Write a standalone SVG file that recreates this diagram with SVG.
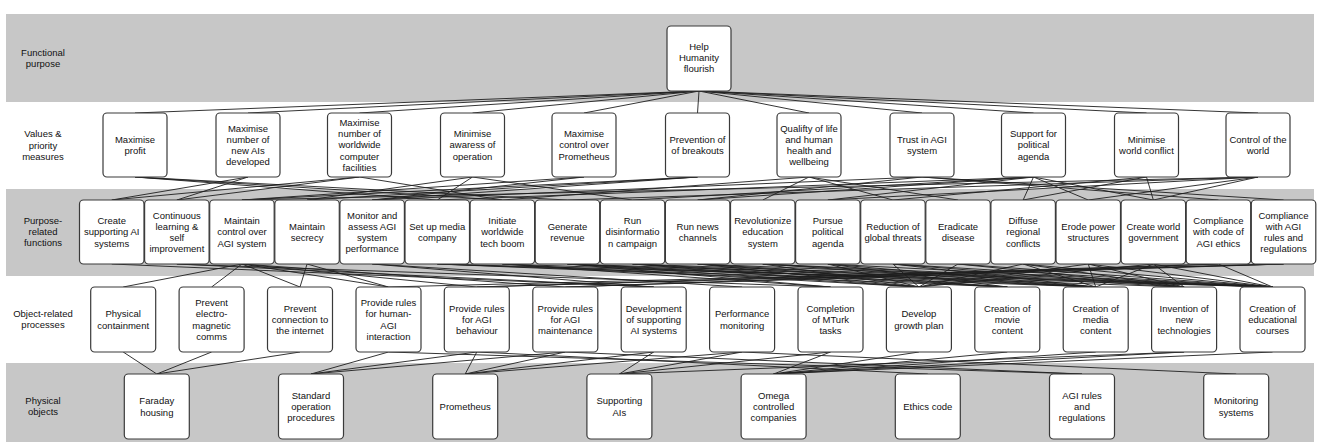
<svg xmlns="http://www.w3.org/2000/svg" width="1317" height="442" viewBox="0 0 1317 442">
<style>
.band{fill:#c7c7c7}
.node rect{fill:#fff;stroke:#3a3a3a;stroke-width:1.2}
text{font-family:"Liberation Sans",Arial,sans-serif;font-size:9.5px;fill:#111;text-anchor:middle}
#connectors line{stroke:#1e1e1e;stroke-width:0.9}
</style>
<rect width="1317" height="442" fill="#fff"/>
<g id="bands">
<rect class="band" x="6" y="14" width="1308" height="88"/>
<rect class="band" x="6" y="189" width="1308" height="87"/>
<rect class="band" x="6" y="363" width="1308" height="79"/>
</g>
<g id="row-labels">
<text x="43" y="55.7">Functional<tspan x="43" dy="11">purpose</tspan></text>
<text x="43" y="137.4">Values &amp;<tspan x="43" dy="11.3">priority</tspan><tspan x="43" dy="11.3">measures</tspan></text>
<text x="43" y="224.4">Purpose-<tspan x="43" dy="11">related</tspan><tspan x="43" dy="11">functions</tspan></text>
<text x="43" y="317.4">Object-related<tspan x="43" dy="11">processes</tspan></text>
<text x="43" y="404.1">Physical<tspan x="43" dy="11">objects</tspan></text>
</g>
<g id="connectors">
<line x1="699" y1="91" x2="135" y2="113"/>
<line x1="699" y1="91" x2="248" y2="113"/>
<line x1="699" y1="91" x2="359.5" y2="113"/>
<line x1="699" y1="91" x2="472.5" y2="113"/>
<line x1="699" y1="91" x2="584" y2="113"/>
<line x1="699" y1="91" x2="697.5" y2="113"/>
<line x1="699" y1="91" x2="809" y2="113"/>
<line x1="699" y1="91" x2="922" y2="113"/>
<line x1="699" y1="91" x2="1033.5" y2="113"/>
<line x1="699" y1="91" x2="1146.5" y2="113"/>
<line x1="699" y1="91" x2="1258" y2="113"/>
<line x1="135" y1="177" x2="437.25" y2="200"/>
<line x1="135" y1="177" x2="502.35" y2="200"/>
<line x1="135" y1="177" x2="567.45" y2="200"/>
<line x1="248" y1="177" x2="111.75" y2="200"/>
<line x1="248" y1="177" x2="176.85" y2="200"/>
<line x1="359.5" y1="177" x2="111.75" y2="200"/>
<line x1="359.5" y1="177" x2="176.85" y2="200"/>
<line x1="359.5" y1="177" x2="502.35" y2="200"/>
<line x1="472.5" y1="177" x2="307.05" y2="200"/>
<line x1="472.5" y1="177" x2="632.55" y2="200"/>
<line x1="472.5" y1="177" x2="437.25" y2="200"/>
<line x1="584" y1="177" x2="241.95" y2="200"/>
<line x1="584" y1="177" x2="372.15" y2="200"/>
<line x1="697.5" y1="177" x2="241.95" y2="200"/>
<line x1="697.5" y1="177" x2="307.05" y2="200"/>
<line x1="697.5" y1="177" x2="372.15" y2="200"/>
<line x1="809" y1="177" x2="502.35" y2="200"/>
<line x1="809" y1="177" x2="762.75" y2="200"/>
<line x1="809" y1="177" x2="892.95" y2="200"/>
<line x1="809" y1="177" x2="958.05" y2="200"/>
<line x1="922" y1="177" x2="697.65" y2="200"/>
<line x1="922" y1="177" x2="1218.45" y2="200"/>
<line x1="922" y1="177" x2="1283.55" y2="200"/>
<line x1="922" y1="177" x2="372.15" y2="200"/>
<line x1="1033.5" y1="177" x2="437.25" y2="200"/>
<line x1="1033.5" y1="177" x2="632.55" y2="200"/>
<line x1="1033.5" y1="177" x2="697.65" y2="200"/>
<line x1="1033.5" y1="177" x2="827.85" y2="200"/>
<line x1="1033.5" y1="177" x2="1023.15" y2="200"/>
<line x1="1033.5" y1="177" x2="1088.25" y2="200"/>
<line x1="1033.5" y1="177" x2="1153.35" y2="200"/>
<line x1="1146.5" y1="177" x2="892.95" y2="200"/>
<line x1="1146.5" y1="177" x2="1023.15" y2="200"/>
<line x1="1146.5" y1="177" x2="1153.35" y2="200"/>
<line x1="1258" y1="177" x2="827.85" y2="200"/>
<line x1="1258" y1="177" x2="1088.25" y2="200"/>
<line x1="1258" y1="177" x2="1153.35" y2="200"/>
<line x1="1258" y1="177" x2="567.45" y2="200"/>
<line x1="1258" y1="177" x2="241.95" y2="200"/>
<line x1="111.75" y1="264" x2="653.7" y2="287"/>
<line x1="176.85" y1="264" x2="653.7" y2="287"/>
<line x1="176.85" y1="264" x2="830.5" y2="287"/>
<line x1="241.95" y1="264" x2="123.2" y2="287"/>
<line x1="241.95" y1="264" x2="211.6" y2="287"/>
<line x1="241.95" y1="264" x2="300" y2="287"/>
<line x1="241.95" y1="264" x2="388.5" y2="287"/>
<line x1="241.95" y1="264" x2="476.8" y2="287"/>
<line x1="241.95" y1="264" x2="565.3" y2="287"/>
<line x1="307.05" y1="264" x2="300" y2="287"/>
<line x1="307.05" y1="264" x2="388.5" y2="287"/>
<line x1="372.15" y1="264" x2="742.1" y2="287"/>
<line x1="372.15" y1="264" x2="653.7" y2="287"/>
<line x1="437.25" y1="264" x2="1007.3" y2="287"/>
<line x1="437.25" y1="264" x2="1095.7" y2="287"/>
<line x1="437.25" y1="264" x2="1272.5" y2="287"/>
<line x1="502.35" y1="264" x2="1184.1" y2="287"/>
<line x1="502.35" y1="264" x2="918.9" y2="287"/>
<line x1="502.35" y1="264" x2="830.5" y2="287"/>
<line x1="567.45" y1="264" x2="830.5" y2="287"/>
<line x1="567.45" y1="264" x2="918.9" y2="287"/>
<line x1="567.45" y1="264" x2="1007.3" y2="287"/>
<line x1="567.45" y1="264" x2="1095.7" y2="287"/>
<line x1="567.45" y1="264" x2="1272.5" y2="287"/>
<line x1="632.55" y1="264" x2="1095.7" y2="287"/>
<line x1="632.55" y1="264" x2="1007.3" y2="287"/>
<line x1="632.55" y1="264" x2="918.9" y2="287"/>
<line x1="632.55" y1="264" x2="1272.5" y2="287"/>
<line x1="697.65" y1="264" x2="1095.7" y2="287"/>
<line x1="697.65" y1="264" x2="1007.3" y2="287"/>
<line x1="697.65" y1="264" x2="1272.5" y2="287"/>
<line x1="697.65" y1="264" x2="918.9" y2="287"/>
<line x1="762.75" y1="264" x2="1272.5" y2="287"/>
<line x1="762.75" y1="264" x2="1095.7" y2="287"/>
<line x1="762.75" y1="264" x2="1184.1" y2="287"/>
<line x1="762.75" y1="264" x2="918.9" y2="287"/>
<line x1="827.85" y1="264" x2="1095.7" y2="287"/>
<line x1="827.85" y1="264" x2="1007.3" y2="287"/>
<line x1="827.85" y1="264" x2="918.9" y2="287"/>
<line x1="827.85" y1="264" x2="1272.5" y2="287"/>
<line x1="892.95" y1="264" x2="1184.1" y2="287"/>
<line x1="892.95" y1="264" x2="918.9" y2="287"/>
<line x1="892.95" y1="264" x2="1272.5" y2="287"/>
<line x1="892.95" y1="264" x2="1095.7" y2="287"/>
<line x1="958.05" y1="264" x2="1184.1" y2="287"/>
<line x1="958.05" y1="264" x2="1272.5" y2="287"/>
<line x1="958.05" y1="264" x2="918.9" y2="287"/>
<line x1="1023.15" y1="264" x2="1095.7" y2="287"/>
<line x1="1023.15" y1="264" x2="918.9" y2="287"/>
<line x1="1023.15" y1="264" x2="1272.5" y2="287"/>
<line x1="1023.15" y1="264" x2="1184.1" y2="287"/>
<line x1="1088.25" y1="264" x2="1095.7" y2="287"/>
<line x1="1088.25" y1="264" x2="918.9" y2="287"/>
<line x1="1088.25" y1="264" x2="1184.1" y2="287"/>
<line x1="1088.25" y1="264" x2="1272.5" y2="287"/>
<line x1="1153.35" y1="264" x2="918.9" y2="287"/>
<line x1="1153.35" y1="264" x2="1095.7" y2="287"/>
<line x1="1153.35" y1="264" x2="1272.5" y2="287"/>
<line x1="1153.35" y1="264" x2="1184.1" y2="287"/>
<line x1="1218.45" y1="264" x2="476.8" y2="287"/>
<line x1="1218.45" y1="264" x2="1272.5" y2="287"/>
<line x1="1218.45" y1="264" x2="565.3" y2="287"/>
<line x1="1283.55" y1="264" x2="476.8" y2="287"/>
<line x1="1283.55" y1="264" x2="565.3" y2="287"/>
<line x1="1283.55" y1="264" x2="388.5" y2="287"/>
<line x1="123.2" y1="352" x2="156.8" y2="374"/>
<line x1="211.6" y1="352" x2="156.8" y2="374"/>
<line x1="300" y1="352" x2="156.8" y2="374"/>
<line x1="388.5" y1="352" x2="311" y2="374"/>
<line x1="388.5" y1="352" x2="1082" y2="374"/>
<line x1="476.8" y1="352" x2="311" y2="374"/>
<line x1="476.8" y1="352" x2="465.2" y2="374"/>
<line x1="476.8" y1="352" x2="927.8" y2="374"/>
<line x1="565.3" y1="352" x2="311" y2="374"/>
<line x1="565.3" y1="352" x2="465.2" y2="374"/>
<line x1="565.3" y1="352" x2="1082" y2="374"/>
<line x1="653.7" y1="352" x2="619.4" y2="374"/>
<line x1="653.7" y1="352" x2="465.2" y2="374"/>
<line x1="742.1" y1="352" x2="465.2" y2="374"/>
<line x1="742.1" y1="352" x2="1236.2" y2="374"/>
<line x1="742.1" y1="352" x2="619.4" y2="374"/>
<line x1="830.5" y1="352" x2="773.6" y2="374"/>
<line x1="830.5" y1="352" x2="619.4" y2="374"/>
<line x1="918.9" y1="352" x2="773.6" y2="374"/>
<line x1="1007.3" y1="352" x2="773.6" y2="374"/>
<line x1="1095.7" y1="352" x2="773.6" y2="374"/>
<line x1="1184.1" y1="352" x2="773.6" y2="374"/>
<line x1="1184.1" y1="352" x2="619.4" y2="374"/>
<line x1="1272.5" y1="352" x2="773.6" y2="374"/>
</g>
<g id="n-top" class="node"><rect x="667" y="26" width="64" height="65" rx="4"/><text x="699" y="50">Help<tspan x="699" dy="11.2">Humanity</tspan><tspan x="699" dy="11.2">flourish</tspan></text></g>
<g id="v1" class="node"><rect x="103" y="113" width="64" height="64" rx="4"/><text x="135" y="142.8">Maximise<tspan x="135" dy="11.2">profit</tspan></text></g>
<g id="v2" class="node"><rect x="216" y="113" width="64" height="64" rx="4"/><text x="248" y="131.6">Maximise<tspan x="248" dy="11.2">number of</tspan><tspan x="248" dy="11.2">new AIs</tspan><tspan x="248" dy="11.2">developed</tspan></text></g>
<g id="v3" class="node"><rect x="327.5" y="113" width="64" height="64" rx="4"/><text x="359.5" y="126">Maximise<tspan x="359.5" dy="11.2">number of</tspan><tspan x="359.5" dy="11.2">worldwide</tspan><tspan x="359.5" dy="11.2">computer</tspan><tspan x="359.5" dy="11.2">facilities</tspan></text></g>
<g id="v4" class="node"><rect x="440.5" y="113" width="64" height="64" rx="4"/><text x="472.5" y="137.2">Minimise<tspan x="472.5" dy="11.2">awaress of</tspan><tspan x="472.5" dy="11.2">operation</tspan></text></g>
<g id="v5" class="node"><rect x="552" y="113" width="64" height="64" rx="4"/><text x="584" y="137.2">Maximise<tspan x="584" dy="11.2">control over</tspan><tspan x="584" dy="11.2">Prometheus</tspan></text></g>
<g id="v6" class="node"><rect x="665.5" y="113" width="64" height="64" rx="4"/><text x="697.5" y="142.8">Prevention of<tspan x="697.5" dy="11.2">of breakouts</tspan></text></g>
<g id="v7" class="node"><rect x="777" y="113" width="64" height="64" rx="4"/><text x="809" y="131.6">Qualifty of life<tspan x="809" dy="11.2">and human</tspan><tspan x="809" dy="11.2">health and</tspan><tspan x="809" dy="11.2">wellbeing</tspan></text></g>
<g id="v8" class="node"><rect x="890" y="113" width="64" height="64" rx="4"/><text x="922" y="142.8">Trust in AGI<tspan x="922" dy="11.2">system</tspan></text></g>
<g id="v9" class="node"><rect x="1001.5" y="113" width="64" height="64" rx="4"/><text x="1033.5" y="137.2">Support for<tspan x="1033.5" dy="11.2">political</tspan><tspan x="1033.5" dy="11.2">agenda</tspan></text></g>
<g id="v10" class="node"><rect x="1114.5" y="113" width="64" height="64" rx="4"/><text x="1146.5" y="142.8">Minimise<tspan x="1146.5" dy="11.2">world conflict</tspan></text></g>
<g id="v11" class="node"><rect x="1226" y="113" width="64" height="64" rx="4"/><text x="1258" y="142.8">Control of the<tspan x="1258" dy="11.2">world</tspan></text></g>
<g id="f1" class="node"><rect x="79.5" y="200" width="64.5" height="64" rx="4"/><text x="111.75" y="224.2">Create<tspan x="111.75" dy="11.2">supporting AI</tspan><tspan x="111.75" dy="11.2">systems</tspan></text></g>
<g id="f2" class="node"><rect x="144.6" y="200" width="64.5" height="64" rx="4"/><text x="176.85" y="218.6">Continuous<tspan x="176.85" dy="11.2">learning &amp;</tspan><tspan x="176.85" dy="11.2">self</tspan><tspan x="176.85" dy="11.2">improvement</tspan></text></g>
<g id="f3" class="node"><rect x="209.7" y="200" width="64.5" height="64" rx="4"/><text x="241.95" y="224.2">Maintain<tspan x="241.95" dy="11.2">control over</tspan><tspan x="241.95" dy="11.2">AGI system</tspan></text></g>
<g id="f4" class="node"><rect x="274.8" y="200" width="64.5" height="64" rx="4"/><text x="307.05" y="229.8">Maintain<tspan x="307.05" dy="11.2">secrecy</tspan></text></g>
<g id="f5" class="node"><rect x="339.9" y="200" width="64.5" height="64" rx="4"/><text x="372.15" y="218.6">Monitor and<tspan x="372.15" dy="11.2">assess AGI</tspan><tspan x="372.15" dy="11.2">system</tspan><tspan x="372.15" dy="11.2">performance</tspan></text></g>
<g id="f6" class="node"><rect x="405" y="200" width="64.5" height="64" rx="4"/><text x="437.25" y="229.8">Set up media<tspan x="437.25" dy="11.2">company</tspan></text></g>
<g id="f7" class="node"><rect x="470.1" y="200" width="64.5" height="64" rx="4"/><text x="502.35" y="224.2">Initiate<tspan x="502.35" dy="11.2">worldwide</tspan><tspan x="502.35" dy="11.2">tech boom</tspan></text></g>
<g id="f8" class="node"><rect x="535.2" y="200" width="64.5" height="64" rx="4"/><text x="567.45" y="229.8">Generate<tspan x="567.45" dy="11.2">revenue</tspan></text></g>
<g id="f9" class="node"><rect x="600.3" y="200" width="64.5" height="64" rx="4"/><text x="632.55" y="224.2">Run<tspan x="632.55" dy="11.2">disinformatio</tspan><tspan x="632.55" dy="11.2">n campaign</tspan></text></g>
<g id="f10" class="node"><rect x="665.4" y="200" width="64.5" height="64" rx="4"/><text x="697.65" y="229.8">Run news<tspan x="697.65" dy="11.2">channels</tspan></text></g>
<g id="f11" class="node"><rect x="730.5" y="200" width="64.5" height="64" rx="4"/><text x="762.75" y="224.2">Revolutionize<tspan x="762.75" dy="11.2">education</tspan><tspan x="762.75" dy="11.2">system</tspan></text></g>
<g id="f12" class="node"><rect x="795.6" y="200" width="64.5" height="64" rx="4"/><text x="827.85" y="224.2">Pursue<tspan x="827.85" dy="11.2">political</tspan><tspan x="827.85" dy="11.2">agenda</tspan></text></g>
<g id="f13" class="node"><rect x="860.7" y="200" width="64.5" height="64" rx="4"/><text x="892.95" y="229.8">Reduction of<tspan x="892.95" dy="11.2">global threats</tspan></text></g>
<g id="f14" class="node"><rect x="925.8" y="200" width="64.5" height="64" rx="4"/><text x="958.05" y="229.8">Eradicate<tspan x="958.05" dy="11.2">disease</tspan></text></g>
<g id="f15" class="node"><rect x="990.9" y="200" width="64.5" height="64" rx="4"/><text x="1023.15" y="224.2">Diffuse<tspan x="1023.15" dy="11.2">regional</tspan><tspan x="1023.15" dy="11.2">conflicts</tspan></text></g>
<g id="f16" class="node"><rect x="1056" y="200" width="64.5" height="64" rx="4"/><text x="1088.25" y="229.8">Erode power<tspan x="1088.25" dy="11.2">structures</tspan></text></g>
<g id="f17" class="node"><rect x="1121.1" y="200" width="64.5" height="64" rx="4"/><text x="1153.35" y="229.8">Create world<tspan x="1153.35" dy="11.2">government</tspan></text></g>
<g id="f18" class="node"><rect x="1186.2" y="200" width="64.5" height="64" rx="4"/><text x="1218.45" y="224.2">Compliance<tspan x="1218.45" dy="11.2">with code of</tspan><tspan x="1218.45" dy="11.2">AGI ethics</tspan></text></g>
<g id="f19" class="node"><rect x="1251.3" y="200" width="64.5" height="64" rx="4"/><text x="1283.55" y="218.6">Compliance<tspan x="1283.55" dy="11.2">with AGI</tspan><tspan x="1283.55" dy="11.2">rules and</tspan><tspan x="1283.55" dy="11.2">regulations</tspan></text></g>
<g id="p1" class="node"><rect x="90.7" y="287" width="65" height="65" rx="4"/><text x="123.2" y="317.3">Physical<tspan x="123.2" dy="11.2">containment</tspan></text></g>
<g id="p2" class="node"><rect x="179.1" y="287" width="65" height="65" rx="4"/><text x="211.6" y="306.1">Prevent<tspan x="211.6" dy="11.2">electro-</tspan><tspan x="211.6" dy="11.2">magnetic</tspan><tspan x="211.6" dy="11.2">comms</tspan></text></g>
<g id="p3" class="node"><rect x="267.5" y="287" width="65" height="65" rx="4"/><text x="300" y="311.7">Prevent<tspan x="300" dy="11.2">connection to</tspan><tspan x="300" dy="11.2">the internet</tspan></text></g>
<g id="p4" class="node"><rect x="356" y="287" width="65" height="65" rx="4"/><text x="388.5" y="306.1">Provide rules<tspan x="388.5" dy="11.2">for human-</tspan><tspan x="388.5" dy="11.2">AGI</tspan><tspan x="388.5" dy="11.2">interaction</tspan></text></g>
<g id="p5" class="node"><rect x="444.3" y="287" width="65" height="65" rx="4"/><text x="476.8" y="311.7">Provide rules<tspan x="476.8" dy="11.2">for AGI</tspan><tspan x="476.8" dy="11.2">behaviour</tspan></text></g>
<g id="p6" class="node"><rect x="532.8" y="287" width="65" height="65" rx="4"/><text x="565.3" y="311.7">Provide rules<tspan x="565.3" dy="11.2">for AGI</tspan><tspan x="565.3" dy="11.2">maintenance</tspan></text></g>
<g id="p7" class="node"><rect x="621.2" y="287" width="65" height="65" rx="4"/><text x="653.7" y="311.7">Development<tspan x="653.7" dy="11.2">of supporting</tspan><tspan x="653.7" dy="11.2">AI systems</tspan></text></g>
<g id="p8" class="node"><rect x="709.6" y="287" width="65" height="65" rx="4"/><text x="742.1" y="317.3">Performance<tspan x="742.1" dy="11.2">monitoring</tspan></text></g>
<g id="p9" class="node"><rect x="798" y="287" width="65" height="65" rx="4"/><text x="830.5" y="311.7">Completion<tspan x="830.5" dy="11.2">of MTurk</tspan><tspan x="830.5" dy="11.2">tasks</tspan></text></g>
<g id="p10" class="node"><rect x="886.4" y="287" width="65" height="65" rx="4"/><text x="918.9" y="317.3">Develop<tspan x="918.9" dy="11.2">growth plan</tspan></text></g>
<g id="p11" class="node"><rect x="974.8" y="287" width="65" height="65" rx="4"/><text x="1007.3" y="311.7">Creation of<tspan x="1007.3" dy="11.2">movie</tspan><tspan x="1007.3" dy="11.2">content</tspan></text></g>
<g id="p12" class="node"><rect x="1063.2" y="287" width="65" height="65" rx="4"/><text x="1095.7" y="311.7">Creation of<tspan x="1095.7" dy="11.2">media</tspan><tspan x="1095.7" dy="11.2">content</tspan></text></g>
<g id="p13" class="node"><rect x="1151.6" y="287" width="65" height="65" rx="4"/><text x="1184.1" y="311.7">Invention of<tspan x="1184.1" dy="11.2">new</tspan><tspan x="1184.1" dy="11.2">technologies</tspan></text></g>
<g id="p14" class="node"><rect x="1240" y="287" width="65" height="65" rx="4"/><text x="1272.5" y="311.7">Creation of<tspan x="1272.5" dy="11.2">educational</tspan><tspan x="1272.5" dy="11.2">courses</tspan></text></g>
<g id="o1" class="node"><rect x="124.3" y="374" width="65" height="65" rx="4"/><text x="156.8" y="404.3">Faraday<tspan x="156.8" dy="11.2">housing</tspan></text></g>
<g id="o2" class="node"><rect x="278.5" y="374" width="65" height="65" rx="4"/><text x="311" y="398.7">Standard<tspan x="311" dy="11.2">operation</tspan><tspan x="311" dy="11.2">procedures</tspan></text></g>
<g id="o3" class="node"><rect x="432.7" y="374" width="65" height="65" rx="4"/><text x="465.2" y="409.9">Prometheus</text></g>
<g id="o4" class="node"><rect x="586.9" y="374" width="65" height="65" rx="4"/><text x="619.4" y="404.3">Supporting<tspan x="619.4" dy="11.2">AIs</tspan></text></g>
<g id="o5" class="node"><rect x="741.1" y="374" width="65" height="65" rx="4"/><text x="773.6" y="398.7">Omega<tspan x="773.6" dy="11.2">controlled</tspan><tspan x="773.6" dy="11.2">companies</tspan></text></g>
<g id="o6" class="node"><rect x="895.3" y="374" width="65" height="65" rx="4"/><text x="927.8" y="409.9">Ethics code</text></g>
<g id="o7" class="node"><rect x="1049.5" y="374" width="65" height="65" rx="4"/><text x="1082" y="398.7">AGI rules<tspan x="1082" dy="11.2">and</tspan><tspan x="1082" dy="11.2">regulations</tspan></text></g>
<g id="o8" class="node"><rect x="1203.7" y="374" width="65" height="65" rx="4"/><text x="1236.2" y="404.3">Monitoring<tspan x="1236.2" dy="11.2">systems</tspan></text></g>
</svg>
